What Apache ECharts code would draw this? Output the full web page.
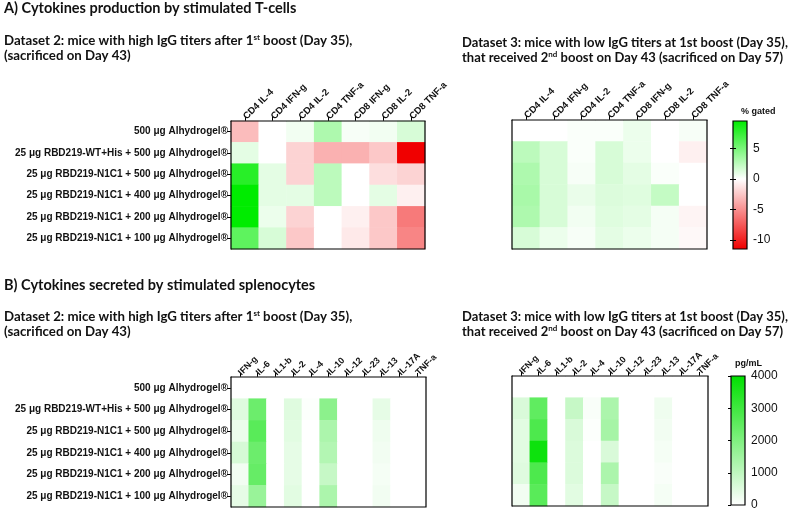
<!DOCTYPE html>
<html><head><meta charset="utf-8">
<script src="https://cdn.jsdelivr.net/npm/echarts@6/dist/echarts.min.js"></script>
<style>html,body{margin:0;padding:0;background:#fff}#c{width:800px;height:511px}</style>
</head><body><div id="c"></div>
<script>
// ---------------- data ----------------
const rowLabels = [
  '500 μg Alhydrogel®',
  '25 μg RBD219-WT+His + 500 μg Alhydrogel®',
  '25 μg RBD219-N1C1 + 500 μg Alhydrogel®',
  '25 μg RBD219-N1C1 + 400 μg Alhydrogel®',
  '25 μg RBD219-N1C1 + 200 μg Alhydrogel®',
  '25 μg RBD219-N1C1 + 100 μg Alhydrogel®'
];
const tcellCols = ['CD4 IL-4','CD4 IFN-g','CD4 IL-2','CD4 TNF-a','CD8 IFN-g','CD8 IL-2','CD8 TNF-a'];
const splenoCols = ['IFN-g','IL-6','IL1-b','IL-2','IL-4','IL-10','IL-12','IL-23','IL-13','IL-17A','TNF-a'];

// % gated, dataset 2 (rows x cols)
const tcellD2 = [
  [-3.0, 0.0, 0.5, 3.0, 0.3, 0.5, 1.5],
  [ 1.0, 0.0,-2.0,-3.5,-3.5,-2.5,-11.5],
  [ 8.0, 1.0,-2.0, 2.5, 0.0,-1.5,-2.0],
  [ 9.5, 1.0, 1.0, 2.5, 0.0, 1.0,-0.7],
  [ 9.5, 0.7,-2.0, 0.0,-0.7,-2.5,-6.0],
  [ 6.0, 1.5,-2.5, 0.0,-1.0,-2.5,-5.5]
];
// % gated, dataset 3
const tcellD3 = [
  [0.0, 0.0, 0.2, 0.2, 0.7, 0.0, 0.3],
  [2.5, 1.5, 0.2, 1.5, 0.7, 0.0,-0.7],
  [3.0, 1.5, 0.3, 1.5, 1.0, 0.2, 0.0],
  [3.2, 1.5, 0.8, 1.3, 1.2, 2.2, 0.0],
  [3.0, 1.5, 0.5, 1.2, 1.0, 0.4,-0.5],
  [1.5, 0.7, 0.3, 1.0, 0.7, 0.4,-0.3]
];
// pg/mL, dataset 2
const splenoD2 = [
  [  0,    0, 0,   0,  0,    0, 0, 0,   0, 0, 0],
  [500, 2300, 0, 500, 50, 1800, 0, 0, 400, 0, 0],
  [300, 2600, 0, 450,  0, 1300, 0, 0, 250, 0, 0],
  [650, 2300, 0, 400,  0, 1200, 0, 0, 200, 0, 0],
  [200, 2400, 0, 400,  0,  900, 0, 0, 150, 0, 0],
  [400, 1600, 0, 450,  0, 1300, 0, 0, 200, 0, 0]
];
// pg/mL, dataset 3
const splenoD3 = [
  [  0,    0, 0,   0,   0,    0, 0, 0,   0, 0, 0],
  [600, 2500, 0, 900, 100, 1300, 0, 0, 250, 0, 0],
  [450, 2800, 0, 600,  50, 1400, 0, 0, 200, 0, 0],
  [450, 3800, 0, 550,   0,  600, 0, 0, 150, 0, 0],
  [500, 2800, 0, 550,   0, 1300, 0, 0, 100, 0, 0],
  [200, 2600, 0, 450,   0,  900, 0, 0, 150, 0, 0]
];
const pctMin = -11.5, pctMax = 9.5;
const pctTicks = [-10, -5, 0, 5];
const pgMin = 0, pgMax = 4000;
const pgTicks = [0, 1000, 2000, 3000, 4000];

// ---------------- styling helpers ----------------
const AX = 'Liberation Sans';
const TT = 'Lato';
const INK = '#111';
const GREEN_A = [0, 236, 0], RED_A = [240, 0, 0], WHITE = [255, 255, 255];
const GREEN_B = '#00e000', WHITE_B = '#ffffff';
function mix(a, b, t) { return 'rgb(' + a.map((x, i) => Math.round(x + (b[i] - x) * t)).join(',') + ')'; }
function pctColor(v) { return v >= 0 ? mix(WHITE, GREEN_A, v / pctMax) : mix(WHITE, RED_A, v / pctMin); }
const pctColors = [];
for (let i = 0; i <= Math.round((pctMax - pctMin) / 0.5); i++) pctColors.push(pctColor(pctMin + i * 0.5));
function toCells(m) { const out = []; m.forEach((row, r) => row.forEach((v, c) => out.push([c, r, v]))); return out; }

const chart = echarts.init(document.getElementById('c'), null, { renderer: 'canvas' });

const grids = [
  { left: 231, top: 121, width: 194, height: 128 },
  { left: 512, top: 120, width: 195, height: 129 },
  { left: 231, top: 377, width: 195, height: 130 },
  { left: 512, top: 376, width: 196, height: 130 },
  { left: 733, top: 121, width: 14, height: 128 },
  { left: 731, top: 376, width: 14, height: 130 }
].map(g => Object.assign({ show: true, borderColor: '#000', borderWidth: 1.2, backgroundColor: 'transparent', z: 10 }, g));

function catX(gi, cols, fs) {
  return {
    type: 'category', gridIndex: gi, data: cols, position: 'top',
    axisLine: { show: true, lineStyle: { color: '#000', width: 1 } },
    axisTick: { show: true, alignWithLabel: true, length: 4, lineStyle: { color: '#000' } },
    axisLabel: { rotate: -45, interval: 0, margin: 3, fontFamily: AX, fontWeight: 'bold', fontSize: fs, color: INK },
    splitLine: { show: false }, splitArea: { show: false }
  };
}
function catY(gi, labels) {
  return {
    type: 'category', gridIndex: gi, data: rowLabels, inverse: true,
    axisLine: { show: true, lineStyle: { color: '#000', width: 1 } },
    axisTick: { show: labels, alignWithLabel: true, length: 4, lineStyle: { color: '#000' } },
    axisLabel: { show: labels, interval: 0, margin: 3, fontFamily: AX, fontWeight: 'bold', fontSize: 10, color: INK },
    splitLine: { show: false }, splitArea: { show: false }
  };
}
function barX(gi) { return { type: 'value', gridIndex: gi, min: 0, max: 1, show: false }; }
function barY(gi, mn, mx, ticks, pos, labels) {
  return {
    type: 'value', gridIndex: gi, min: mn, max: mx, position: pos, z: 12,
    axisLine: { show: false },
    axisTick: { show: true, inside: true, length: 3, customValues: ticks, lineStyle: { color: '#000' } },
    axisLabel: { show: labels, customValues: ticks, margin: 6, fontFamily: AX, fontSize: 12, color: INK,
                 formatter: v => String(v) },
    splitLine: { show: false }
  };
}
function colorbar(gi, xi, yi, mn, mx, stops) {
  return {
    type: 'custom', xAxisIndex: xi, yAxisIndex: yi, silent: true,
    data: [[mn, mx]],
    renderItem: function (params, api) {
      const tl = api.coord([0, api.value(1)]);
      const br = api.coord([1, api.value(0)]);
      return {
        type: 'rect',
        shape: { x: tl[0], y: tl[1], width: br[0] - tl[0], height: br[1] - tl[1] },
        style: { fill: new echarts.graphic.LinearGradient(0, 0, 0, 1, stops) }
      };
    }
  };
}
function richSub(fs) {
  return {
    fontFamily: TT, fontWeight: 'bold', fontSize: fs, lineHeight: 15, color: INK,
    rich: { s: { fontFamily: TT, fontWeight: 'bold', fontSize: 8, lineHeight: 9, verticalAlign: 'top', color: INK } }
  };
}
const titleStyle = { fontFamily: TT, fontWeight: 'bold', fontSize: 14.5, color: INK };

chart.setOption({
  animation: false,
  backgroundColor: '#fff',
  title: [
    { text: 'A) Cytokines production by stimulated T-cells', left: 4, top: 1, padding: 0, textStyle: titleStyle },
    { text: 'Dataset 2: mice with high IgG titers after 1{s|st} boost (Day 35),\n(sacrificed on Day 43)', left: 4, top: 33, padding: 0, textStyle: richSub(13.25) },
    { text: 'Dataset 3: mice with low IgG titers at 1st boost (Day 35),\nthat received 2{s|nd} boost on Day 43 (sacrificed on Day 57)', left: 462, top: 35, padding: 0, textStyle: richSub(13) },
    { text: 'B) Cytokines secreted by stimulated splenocytes', left: 4, top: 278, padding: 0, textStyle: titleStyle },
    { text: 'Dataset 2: mice with high IgG titers after 1{s|st} boost (Day 35),\n(sacrificed on Day 43)', left: 4, top: 309, padding: 0, textStyle: richSub(13.25) },
    { text: 'Dataset 3: mice with low IgG titers at 1st boost (Day 35),\nthat received 2{s|nd} boost on Day 43 (sacrificed on Day 57)', left: 462, top: 309, padding: 0, textStyle: richSub(13) },
    { text: '% gated', left: 741, top: 107, padding: 0, textStyle: { fontFamily: AX, fontWeight: 'bold', fontSize: 9, color: INK } },
    { text: 'pg/mL', left: 735, top: 359, padding: 0, textStyle: { fontFamily: AX, fontWeight: 'bold', fontSize: 9, color: INK } }
  ],
  grid: grids,
  xAxis: [catX(0, tcellCols, 9.5), catX(1, tcellCols, 9.5), catX(2, splenoCols, 9), catX(3, splenoCols, 9), barX(4), barX(5)],
  yAxis: [
    catY(0, true), catY(1, false), catY(2, true), catY(3, false),
    barY(4, pctMin, pctMax, pctTicks, 'right', true),
    barY(4, pctMin, pctMax, pctTicks, 'left', false),
    barY(5, pgMin, pgMax, pgTicks, 'right', true)
  ],
  visualMap: [
    { type: 'continuous', show: false, min: pctMin, max: pctMax, seriesIndex: [0, 1], inRange: { color: pctColors } },
    { type: 'continuous', show: false, min: pgMin, max: pgMax, seriesIndex: [2, 3], inRange: { color: [WHITE_B, GREEN_B] } }
  ],
  series: [
    { type: 'heatmap', xAxisIndex: 0, yAxisIndex: 0, data: toCells(tcellD2), itemStyle: { borderWidth: 0 } },
    { type: 'heatmap', xAxisIndex: 1, yAxisIndex: 1, data: toCells(tcellD3), itemStyle: { borderWidth: 0 } },
    { type: 'heatmap', xAxisIndex: 2, yAxisIndex: 2, data: toCells(splenoD2), itemStyle: { borderWidth: 0 } },
    { type: 'heatmap', xAxisIndex: 3, yAxisIndex: 3, data: toCells(splenoD3), itemStyle: { borderWidth: 0 } },
    colorbar(4, 4, 4, pctMin, pctMax, [
      { offset: 0, color: pctColor(pctMax) },
      { offset: pctMax / (pctMax - pctMin), color: pctColor(0) },
      { offset: 1, color: pctColor(pctMin) }
    ]),
    colorbar(5, 5, 6, pgMin, pgMax, [
      { offset: 0, color: GREEN_B },
      { offset: 1, color: WHITE_B }
    ])
  ]
});
</script>
</body></html>
